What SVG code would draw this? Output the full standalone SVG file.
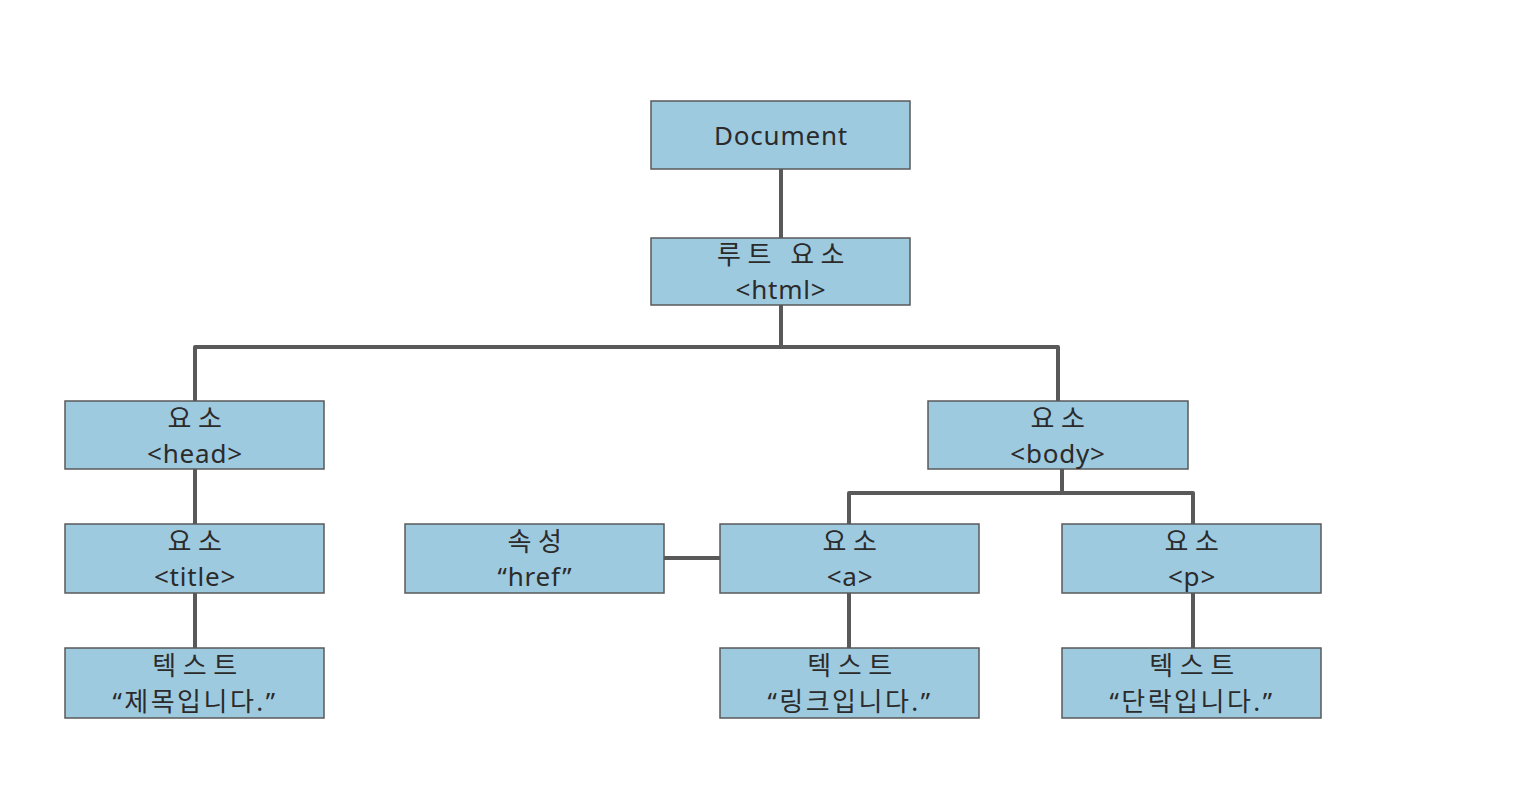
<svg xmlns="http://www.w3.org/2000/svg" width="1526" height="804" viewBox="0 0 1526 804">
<style>
.box{fill:#9ecae0;stroke:#5a5a5a;stroke-width:1.5}
.t{font-size:26px;fill:#2b2b2b;text-anchor:middle}
.k{font-family:"Noto Sans CJK KR",sans-serif;letter-spacing:6.5px}
.q{font-family:"Noto Sans","Noto Sans CJK KR",sans-serif;letter-spacing:2.5px}
.l{font-family:"Noto Sans",sans-serif;letter-spacing:0.8px}
.c{fill:none;stroke:#595959;stroke-width:4;stroke-linejoin:round}
</style>
<rect width="1526" height="804" fill="#fff"/>
<g id="connectors">
<path class="c" d="M781,169 V238"/>
<path class="c" d="M781,305 V347"/>
<path class="c" d="M195,401 V347 H1058 V401"/>
<path class="c" d="M195,469 V524"/>
<path class="c" d="M195,593 V648"/>
<path class="c" d="M1062,469 V493"/>
<path class="c" d="M849,524 V493 H1193 V524"/>
<path class="c" d="M664,558 H720"/>
<path class="c" d="M849,593 V648"/>
<path class="c" d="M1193,593 V648"/>
</g>
<g id="document"><rect class="box" x="651" y="101" width="259" height="68"/><text class="t l" x="781" y="145">Document</text></g>
<g id="html"><rect class="box" x="651" y="238" width="259" height="67"/><text class="t k" x="784" y="264">루트 요소</text><text class="t l" x="781" y="299">&lt;html&gt;</text></g>
<g id="head"><rect class="box" x="65" y="401" width="259" height="68"/><text class="t k" x="198" y="428">요소</text><text class="t l" x="195" y="463">&lt;head&gt;</text></g>
<g id="body"><rect class="box" x="928" y="401" width="260" height="68"/><text class="t k" x="1061" y="428">요소</text><text class="t l" x="1058" y="463">&lt;body&gt;</text></g>
<g id="title"><rect class="box" x="65" y="524" width="259" height="69"/><text class="t k" x="198" y="551">요소</text><text class="t l" x="195" y="586">&lt;title&gt;</text></g>
<g id="href"><rect class="box" x="405" y="524" width="259" height="69"/><text class="t k" x="538" y="551">속성</text><text class="t l" x="535" y="586">“href”</text></g>
<g id="a"><rect class="box" x="720" y="524" width="259" height="69"/><text class="t k" x="853" y="551">요소</text><text class="t l" x="850" y="586">&lt;a&gt;</text></g>
<g id="p"><rect class="box" x="1062" y="524" width="259" height="69"/><text class="t k" x="1195" y="551">요소</text><text class="t l" x="1192" y="586">&lt;p&gt;</text></g>
<g id="text-title"><rect class="box" x="65" y="648" width="259" height="70"/><text class="t k" x="198" y="675">텍스트</text><text class="t q" x="195" y="711">“제목입니다.”</text></g>
<g id="text-a"><rect class="box" x="720" y="648" width="259" height="70"/><text class="t k" x="853" y="675">텍스트</text><text class="t q" x="850" y="711">“링크입니다.”</text></g>
<g id="text-p"><rect class="box" x="1062" y="648" width="259" height="70"/><text class="t k" x="1195" y="675">텍스트</text><text class="t q" x="1192" y="711">“단락입니다.”</text></g>
</svg>
